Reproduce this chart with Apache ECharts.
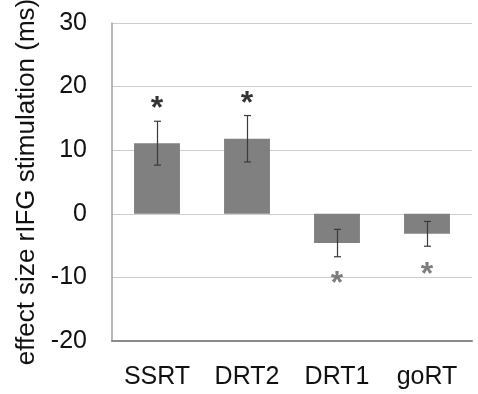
<!DOCTYPE html>
<html>
<head>
<meta charset="utf-8">
<script src="https://cdn.jsdelivr.net/npm/echarts@6/dist/echarts.min.js"></script>
<style>
  html, body { margin: 0; padding: 0; background: #fff; }
  #chart { width: 478px; height: 394px; }
</style>
</head>
<body>
<div id="chart"></div>
<script>
const categories = ['SSRT', 'DRT2', 'DRT1', 'goRT'];
const effects = [11.1, 11.8, -4.6, -3.15];
const errors = [3.45, 3.65, 2.15, 1.95];
const starValues = [16.4, 17.2, -11.1, -9.7];
const starColors = ['#000000', '#000000', '#5c5c5c', '#5c5c5c'];
const yTicks = { min: -20, max: 30, interval: 10 };

const chart = echarts.init(document.getElementById('chart'));
const font = 'Liberation Sans, Arial, Helvetica, sans-serif';

chart.setOption({
  animation: false,
  grid: { left: 112, right: 6, top: 23, bottom: 53, containLabel: false, outerBoundsMode: 'none' },
  xAxis: {
    type: 'category',
    data: categories,
    axisTick: { show: false },
    axisLine: { onZero: false, lineStyle: { color: '#8a8a8a', width: 2 } },
    axisLabel: { color: '#111', fontSize: 25, fontFamily: font, margin: 24 }
  },
  yAxis: {
    type: 'value',
    min: yTicks.min,
    max: yTicks.max,
    interval: yTicks.interval,
    name: 'effect size rIFG stimulation (ms)',
    nameLocation: 'middle',
    nameGap: 72,
    nameMoveOverlap: false,
    nameTextStyle: { color: '#111', fontSize: 26, fontFamily: font },
    axisLine: { show: true, lineStyle: { color: '#a0a0a0', width: 1.5 } },
    axisTick: { show: false },
    axisLabel: { color: '#111', fontSize: 25, fontFamily: font, margin: 25 },
    splitLine: { lineStyle: { color: '#cccccc', width: 1 } }
  },
  series: [
    {
      type: 'bar',
      data: effects,
      barWidth: '51%',
      itemStyle: { color: '#808080' }
    },
    {
      type: 'custom',
      data: effects.map((v, i) => [i, v - errors[i], v + errors[i]]),
      renderItem: (params, api) => {
        const lo = api.coord([api.value(0), api.value(1)]);
        const hi = api.coord([api.value(0), api.value(2)]);
        const x = Math.round(lo[0]) + 0.5;
        const cap = 3.5;
        const style = { stroke: '#3a3a3a', lineWidth: 1.2 };
        return {
          type: 'group',
          children: [
            { type: 'line', shape: { x1: x, y1: lo[1], x2: x, y2: hi[1] }, style },
            { type: 'line', shape: { x1: x - cap, y1: lo[1], x2: x + cap, y2: lo[1] }, style },
            { type: 'line', shape: { x1: x - cap, y1: hi[1], x2: x + cap, y2: hi[1] }, style }
          ]
        };
      },
      z: 3
    },
    {
      type: 'scatter',
      symbolSize: 0,
      data: starValues.map((v, i) => ({
        value: [i, v],
        label: {
          show: true,
          position: 'inside',
          formatter: '*',
          color: starColors[i],
          fontSize: 32,
          fontWeight: 'bold',
          fontFamily: font
        }
      })),
      z: 4
    }
  ]
});
</script>
</body>
</html>
